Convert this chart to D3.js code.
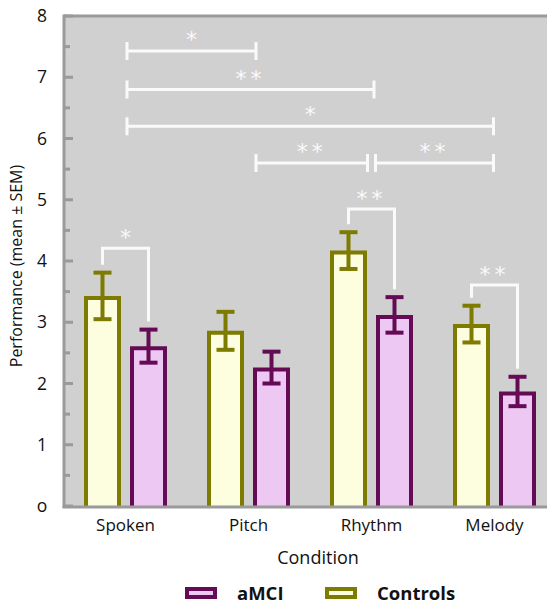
<!DOCTYPE html>
<html><head><meta charset="utf-8">
<script src="https://cdn.jsdelivr.net/npm/d3@7"></script>
<style>html,body{margin:0;padding:0;background:#fff;}svg{display:block;}</style>
</head><body>
<script>
// ---- data ----
const conditions = ["Spoken", "Pitch", "Rhythm", "Melody"];
const groups = ["Controls", "aMCI"];
const controlsMean = [3.43, 2.86, 4.17, 2.97];
const controlsSEM  = [0.38, 0.31, 0.30, 0.30];
const amciMean     = [2.61, 2.26, 3.12, 1.87];
const amciSEM      = [0.27, 0.26, 0.29, 0.24];
const yTicks = [0, 1, 2, 3, 4, 5, 6, 7, 8];
const yTickLabels = ["o", "1", "2", "3", "4", "5", "6", "7", "8"];
// within-condition comparisons (Controls vs aMCI)
const pairCond   = ["Spoken", "Rhythm", "Melody"];
const pairLevel  = [4.21, 4.85, 3.61];
const pairLabel  = ["*", "**", "**"];
// between-condition comparisons
const cmpFrom  = ["Spoken", "Spoken", "Spoken", "Pitch", "Rhythm"];
const cmpTo    = ["Pitch", "Rhythm", "Melody", "Rhythm", "Melody"];
const cmpLevel = [7.43, 6.80, 6.20, 5.60, 5.60];
const cmpLabel = ["*", "**", "*", "**", "**"];

const W = 547, H = 604;
const svg = d3.select("body").append("svg").attr("width", W).attr("height", H);
const FONT = "'Open Sans', 'Noto Sans', sans-serif";

const plotL = 64, plotT = 16, plotB = 506, plotR = W;
const x = d3.scaleBand().domain(conditions).range([64, 556]).padding(0);
const y = d3.scaleLinear().domain([0, 8]).range([plotB, plotT]);
const cx = c => x(c) + x.bandwidth() / 2;
const off = { Controls: -23, aMCI: 23 };
const barW = 33;

const colors = {
  Controls: { stroke: "#7d7b00", fill: "#fdfde0" },
  aMCI: { stroke: "#650a55", fill: "#ecc8f2" }
};

// background
svg.append("rect").attr("x", plotL).attr("y", plotT).attr("width", plotR - plotL)
  .attr("height", plotB - plotT).attr("fill", "#d0d0d0");
// frame
svg.append("line").attr("x1", plotL).attr("x2", plotR).attr("y1", plotT).attr("y2", plotT)
  .attr("stroke", "#9a9a9a").attr("stroke-width", 3);
svg.append("line").attr("x1", plotL).attr("x2", plotL).attr("y1", plotT - 1.5).attr("y2", plotB + 1.5)
  .attr("stroke", "#9a9a9a").attr("stroke-width", 3);

// y ticks (inside) + minor ticks
const minor = d3.range(0.5, 8, 1);
svg.selectAll(".maj").data(yTicks).enter().append("line")
  .attr("x1", plotL).attr("x2", plotL + 9).attr("y1", d => y(d)).attr("y2", d => y(d))
  .attr("stroke", "#9a9a9a").attr("stroke-width", 3);
svg.selectAll(".min").data(minor).enter().append("line")
  .attr("x1", plotL).attr("x2", plotL + 6).attr("y1", d => y(d)).attr("y2", d => y(d))
  .attr("stroke", "#9a9a9a").attr("stroke-width", 3);
svg.selectAll(".ytl").data(yTicks).enter().append("text")
  .attr("x", 42).attr("y", d => y(d) + 6).attr("text-anchor", "middle")
  .attr("font-family", FONT).attr("font-size", 17.5).attr("fill", "#111")
  .text((d, i) => yTickLabels[i]);

// y label
svg.append("text").attr("transform", "translate(22," + 266 + ") rotate(-90)")
  .attr("text-anchor", "middle").attr("font-family", FONT).attr("font-size", 16).attr("fill", "#111")
  .text("Performance (mean ± SEM)");

// bars
const rows = [];
conditions.forEach((c, i) => {
  rows.push({ c, g: "Controls", m: controlsMean[i], e: controlsSEM[i] });
  rows.push({ c, g: "aMCI", m: amciMean[i], e: amciSEM[i] });
});
const bars = svg.append("g");
rows.forEach(r => {
  const xc = cx(r.c) + off[r.g];
  const col = colors[r.g];
  const top = y(r.m) + 2;
  bars.append("rect").attr("x", xc - barW / 2).attr("y", top)
    .attr("width", barW).attr("height", plotB - top)
    .attr("fill", col.fill);
  bars.append("path")
    .attr("d", `M${xc - barW / 2},${plotB}V${top}H${xc + barW / 2}V${plotB}`)
    .attr("fill", "none").attr("stroke", col.stroke).attr("stroke-width", 4);
  // error bar
  bars.append("line").attr("x1", xc).attr("x2", xc).attr("y1", y(r.m + r.e)).attr("y2", y(r.m - r.e))
    .attr("stroke", col.stroke).attr("stroke-width", 4);
  [r.m + r.e, r.m - r.e].forEach(v => {
    bars.append("line").attr("x1", xc - 9).attr("x2", xc + 9).attr("y1", y(v)).attr("y2", y(v))
      .attr("stroke", col.stroke).attr("stroke-width", 4);
  });
});

// bottom axis line
svg.append("line").attr("x1", plotL - 1.5).attr("x2", plotR).attr("y1", plotB + 1).attr("y2", plotB + 1)
  .attr("stroke", "#9a9a9a").attr("stroke-width", 3);

// category labels
svg.selectAll(".xtl").data(conditions).enter().append("text")
  .attr("x", d => cx(d)).attr("y", 531).attr("text-anchor", "middle")
  .attr("font-family", FONT).attr("font-size", 17).attr("fill", "#111").text(d => d);
svg.append("text").attr("x", 318).attr("y", 564).attr("text-anchor", "middle")
  .attr("font-family", FONT).attr("font-size", 18).attr("fill", "#111").text("Condition");

// significance
const WHITE = "#fafafa";
function star(xc, yc, label) {
  svg.append("text").attr("x", xc).attr("y", yc + 14).attr("text-anchor", "middle")
    .attr("font-family", "'DejaVu Sans', sans-serif").attr("font-size", 22)
    .attr("letter-spacing", label.length > 1 ? 4 : 0)
    .attr("fill", WHITE).text(label);
}
pairCond.forEach((c, i) => {
  const ci = conditions.indexOf(c);
  const xl = cx(c) + off.Controls, xr = cx(c) + off.aMCI;
  const yl = y(controlsMean[ci] + controlsSEM[ci]) - 8;
  const yr = y(amciMean[ci] + amciSEM[ci]) - 8;
  const yb = y(pairLevel[i]);
  svg.append("path").attr("d", `M${xl},${yl}V${yb}H${xr}V${yr}`)
    .attr("fill", "none").attr("stroke", WHITE).attr("stroke-width", 3);
  star((xl + xr) / 2, yb - 17, pairLabel[i]);
});
const nudge = { Spoken: 1.5, Pitch: 7.5, Rhythm: 2.5, Melody: -1 };
cmpFrom.forEach((f, i) => {
  const t = cmpTo[i];
  let xa = cx(f) + nudge[f], xb = cx(t) + nudge[t];
  // adjacent brackets sharing an end at the same level
  cmpFrom.forEach((f2, j) => {
    if (j !== i && cmpLevel[j] === cmpLevel[i]) {
      if (cmpTo[i] === f2) xb = cx(t) - 4;
      if (cmpTo[j] === f) xa = cx(f) + 4;
    }
  });
  const yb = y(cmpLevel[i]);
  svg.append("path").attr("d", `M${xa},${yb - 9}V${yb + 9}M${xa},${yb}H${xb}M${xb},${yb - 9}V${yb + 9}`)
    .attr("fill", "none").attr("stroke", WHITE).attr("stroke-width", 3);
  star((xa + xb) / 2, yb - 18, cmpLabel[i]);
});

// legend
const leg = [{ g: "aMCI", x: 187 }, { g: "Controls", x: 327 }];
leg.forEach(l => {
  svg.append("rect").attr("x", l.x).attr("y", 589).attr("width", 28).attr("height", 8)
    .attr("fill", colors[l.g].fill).attr("stroke", colors[l.g].stroke).attr("stroke-width", 4);
  svg.append("text").attr("x", l.x + 50).attr("y", 600).attr("font-family", FONT)
    .attr("font-size", 18.5).attr("font-weight", "bold").attr("fill", "#111").text(l.g);
});
</script>
</body></html>
